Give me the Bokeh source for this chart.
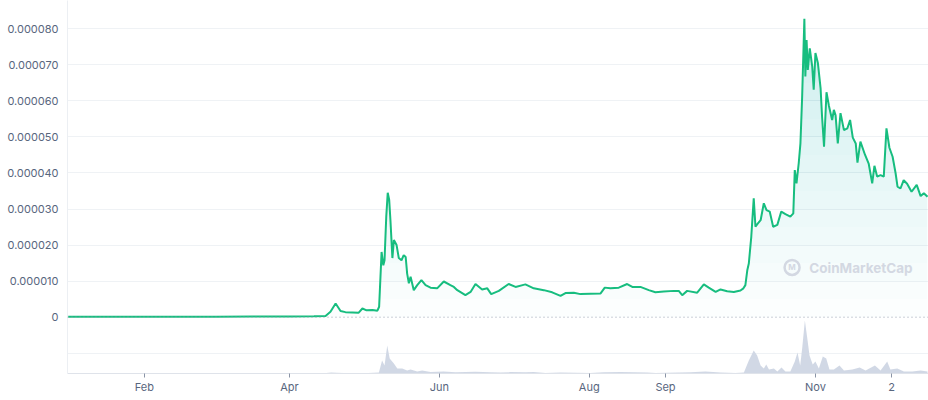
import numpy as np
from bokeh.plotting import figure
from bokeh.models import Range1d, FixedTicker, CustomJSTickFormatter, Span, Label
from bokeh.embed import file_html
from bokeh.resources import INLINE

# ---------------- data (days since 2021-01-01) ----------------
price_day = [0, 15, 30, 45, 60, 75, 90, 100, 104.7, 106.7, 108.8, 110.8, 112.8, 115.7, 118.1,
             119.7, 121.4, 123.8, 125.8, 126.5, 127.5, 128.2, 128.7, 129.4, 130.0, 130.6, 131.1,
             131.9, 132.5, 133.6, 134.5, 135.6, 136.5, 137.3, 137.9, 138.6, 139.3, 140.6, 142.0,
             143.7, 145.4, 147.4, 150.1, 152.8, 155.5, 156.9, 158.3, 161.6, 163.7, 165.7, 168.4,
             170.5, 172.1, 175.2, 179.2, 182.0, 186.0, 189.4, 193.5, 196.9, 200.3, 202.3, 205.7,
             208.4, 212.5, 216.6, 218.3, 220.6, 224.0, 227.4, 229.5, 232.8, 236.2, 238.9, 242.3,
             246.4, 248.4, 249.8, 251.8, 255.9, 258.6, 260.6, 263.4, 265.4, 268.1, 270.8, 273.5,
             274.7, 275.5, 276.3, 276.9, 277.9, 278.9, 279.6, 280.6, 281.7, 283.0, 284.1, 285.4,
             286.8, 288.5, 290.1, 291.8, 293.8, 295.0, 295.6, 296.3, 297.2, 297.9, 298.6, 299.5,
             299.9, 300.4, 300.9, 301.7, 302.7, 303.3, 304.0, 305.0, 306.1, 306.7, 307.5, 308.5,
             309.5, 310.8, 311.5, 312.2, 313.1, 314.2, 315.6, 317.0, 318.1, 319.2, 320.4, 321.1,
             322.3, 324.2, 325.7, 327.1, 328.0, 329.1, 330.5, 331.8, 332.9, 334.1, 335.4, 336.6,
             337.4, 338.6, 339.9, 341.3, 343.1, 345.2, 346.8, 348.1, 349.6]
price_usd = [1.0e-7, 1.0e-7, 1.2e-7, 1.3e-7, 1.5e-7, 1.8e-7, 2.2e-7, 2.8e-7, 3.5e-7, 1.5e-6, 3.8e-6,
             1.7e-6, 1.4e-6, 1.3e-6, 1.2e-6, 2.4e-6, 1.9e-6, 2.0e-6, 1.8e-6, 2.9e-6, 1.81e-5, 1.44e-5,
             1.58e-5, 2.79e-5, 3.45e-5, 3.25e-5, 2.69e-5, 1.64e-5, 2.14e-5, 2.0e-5, 1.64e-5, 1.58e-5,
             1.72e-5, 1.67e-5, 1.21e-5, 9.4e-6, 1.12e-5, 7.5e-6, 8.9e-6, 1.03e-5, 8.9e-6, 8.2e-6,
             8.0e-6, 9.9e-6, 8.9e-6, 8.4e-6, 7.5e-6, 6.1e-6, 7.0e-6, 9.2e-6, 7.7e-6, 8.0e-6, 6.4e-6,
             7.3e-6, 9.2e-6, 8.4e-6, 9.1e-6, 8.0e-6, 7.5e-6, 6.9e-6, 5.9e-6, 6.7e-6, 6.8e-6, 6.4e-6,
             6.5e-6, 6.6e-6, 8.2e-6, 8.0e-6, 8.2e-6, 9.2e-6, 8.4e-6, 8.4e-6, 7.5e-6, 6.9e-6, 7.1e-6,
             7.3e-6, 7.3e-6, 6.1e-6, 7.3e-6, 6.8e-6, 9.1e-6, 8.2e-6, 7.0e-6, 7.7e-6, 7.2e-6, 7.0e-6,
             7.4e-6, 8.0e-6, 8.9e-6, 1.31e-5, 1.49e-5, 2.23e-5, 3.30e-5, 2.51e-5, 2.60e-5, 2.69e-5,
             3.16e-5, 2.97e-5, 2.93e-5, 2.51e-5, 2.56e-5, 2.93e-5, 2.86e-5, 2.79e-5, 2.88e-5, 4.08e-5,
             3.71e-5, 4.27e-5, 4.82e-5, 6.12e-5, 8.28e-5, 6.68e-5, 7.69e-5, 6.86e-5, 7.46e-5, 6.95e-5,
             6.31e-5, 7.33e-5, 7.05e-5, 6.35e-5, 5.56e-5, 4.73e-5, 6.24e-5, 5.86e-5, 5.47e-5, 5.75e-5,
             5.6e-5, 4.82e-5, 5.66e-5, 5.19e-5, 5.24e-5, 5.47e-5, 4.98e-5, 4.82e-5, 4.29e-5, 4.87e-5,
             4.5e-5, 4.25e-5, 3.71e-5, 4.2e-5, 3.9e-5, 3.94e-5, 3.9e-5, 5.24e-5, 4.7e-5, 4.45e-5,
             4.0e-5, 3.62e-5, 3.57e-5, 3.8e-5, 3.7e-5, 3.48e-5, 3.67e-5, 3.36e-5, 3.44e-5, 3.34e-5]

volume_day = [0, 100, 105, 107, 109, 112, 120, 126.4, 127.7, 128.7, 129.8, 130.8, 131.8, 132.5,
              133.9, 135.9, 137.9, 139.3, 142.0, 144.0, 147.4, 152.7, 157.6, 165.7, 171.8, 175.9,
              180.0, 186.0, 189.3, 194.2, 200.3, 206.4, 212.5, 217.8, 224.7, 230.8, 235.7, 238.9,
              243.8, 253.2, 259.3, 265.4, 271.5, 274.9, 276.9, 278.9, 280.3, 281.7, 283.0, 284.0,
              285.1, 287.1, 288.5, 290.2, 291.8, 293.8, 295.6, 296.7, 297.8, 298.6, 299.7, 300.7,
              301.6, 302.9, 304.0, 305.4, 307.0, 308.4, 309.7, 311.5, 313.8, 315.6, 319.0, 322.0,
              324.4, 328.2, 330.5, 333.2, 334.5, 337.3, 340.0, 343.4, 346.8, 349.6]
volume_musd = [0, 0, 3, 5, 4, 2, 1, 5, 65, 40, 140, 75, 60, 50,
               25, 25, 15, 20, 10, 15, 8, 10, 6, 9, 6, 5,
               7, 6, 7, 3, 5, 4, 3, 6, 7, 6, 5, 2,
               4, 6, 10, 5, 3, 5, 65, 115, 90, 40, 25, 45,
               20, 25, 10, 30, 10, 10, 60, 105, 40, 125, 265, 175,
               90, 45, 60, 25, 85, 75, 20, 20, 40, 15, 20, 30,
               15, 40, 15, 60, 20, 25, 10, 10, 15, 10]

x_tick_days = [31, 90, 151, 212, 243, 304, 335]
x_tick_labels = ["Feb", "Apr", "Jun", "Aug", "Sep", "Nov", "2"]
y_ticks = [0, 1e-5, 2e-5, 3e-5, 4e-5, 5e-5, 6e-5, 7e-5, 8e-5]
y_grid_ticks = [-1e-5, 1e-5, 2e-5, 3e-5, 4e-5, 5e-5, 6e-5, 7e-5, 8e-5]

# ---------------- styles ----------------
GREEN = "#16c784"
LINE = "#17bd7f"
VOL = "#cfd6e4"
TXT = "#58667e"
GRID = "#eff2f5"
WM = "#d3d8e2"
FONT = "Inter"

p = figure(width=928, height=400, output_backend="svg", toolbar_location=None,
           x_range=Range1d(-0.28, 350.0), y_range=Range1d(-1.562e-5, 8.785e-5),
           min_border_left=67, min_border_right=0, min_border_top=0, min_border_bottom=27)
p.outline_line_color = None
p.background_fill_color = "white"
p.extra_y_ranges = {"vol": Range1d(0, 1865)}

# gradient-like fill under the price line (layers from absolute levels)
price_arr = np.array(price_usd)
n_layers = 18
for k in range(n_layers):
    t = k * 5e-6
    p.varea(x=price_day, y1=t, y2=np.maximum(price_arr, t), fill_color=GREEN,
            fill_alpha=0.013)

# volume
p.varea(x=volume_day, y1=0, y2=volume_musd, y_range_name="vol", fill_color=VOL, fill_alpha=0.95)

# zero line (dotted)
p.add_layout(Span(location=0, dimension="width", line_color="#98a1b2", line_width=1,
                  line_dash="1 3"))

# price line
p.line(price_day, price_usd, line_color=LINE, line_width=2)

# watermark
p.scatter(x=[294.5], y=[1.38e-5], marker="circle", size=15, fill_alpha=0,
          line_color=WM, line_width=2.5)
p.add_layout(Label(x=294.5, y=1.38e-5, text="M", text_font=FONT, text_font_size="8px",
                   text_font_style="bold", text_color=WM, text_align="center",
                   text_baseline="middle"))
p.add_layout(Label(x=301.5, y=1.36e-5, text="CoinMarketCap", text_font=FONT,
                   text_font_size="13.5px", text_font_style="bold", text_color=WM,
                   text_align="left", text_baseline="middle"))

# axes
p.xgrid.visible = False
p.ygrid.ticker = FixedTicker(ticks=y_grid_ticks)
p.ygrid.grid_line_color = GRID
p.ygrid.grid_line_width = 1

p.xaxis.ticker = FixedTicker(ticks=x_tick_days)
p.xaxis.major_label_overrides = {d: l for d, l in zip(x_tick_days, x_tick_labels)}
p.xaxis.axis_line_color = "#dfe3ea"
p.xaxis.major_tick_line_color = "#8a94a6"
p.xaxis.major_tick_out = 4
p.xaxis.major_tick_in = 0
p.xaxis.minor_tick_line_color = None
p.xaxis.major_label_text_font = FONT
p.xaxis.major_label_text_font_size = "11px"
p.xaxis.major_label_text_color = TXT
p.xaxis.major_label_standoff = 2

p.yaxis.ticker = FixedTicker(ticks=y_ticks)
p.yaxis.formatter = CustomJSTickFormatter(code="""
    if (Math.abs(tick) < 1e-12) { return "0"; }
    return tick.toFixed(6);
""")
p.yaxis.axis_line_color = "#eceff3"
p.yaxis.major_tick_line_color = None
p.yaxis.major_tick_out = 0
p.yaxis.major_tick_in = 0
p.yaxis.minor_tick_line_color = None
p.yaxis.major_label_text_font = FONT
p.yaxis.major_label_text_font_size = "11px"
p.yaxis.major_label_text_color = TXT
p.yaxis.major_label_standoff = 9

open("out.html", "w").write(file_html(p, INLINE))
